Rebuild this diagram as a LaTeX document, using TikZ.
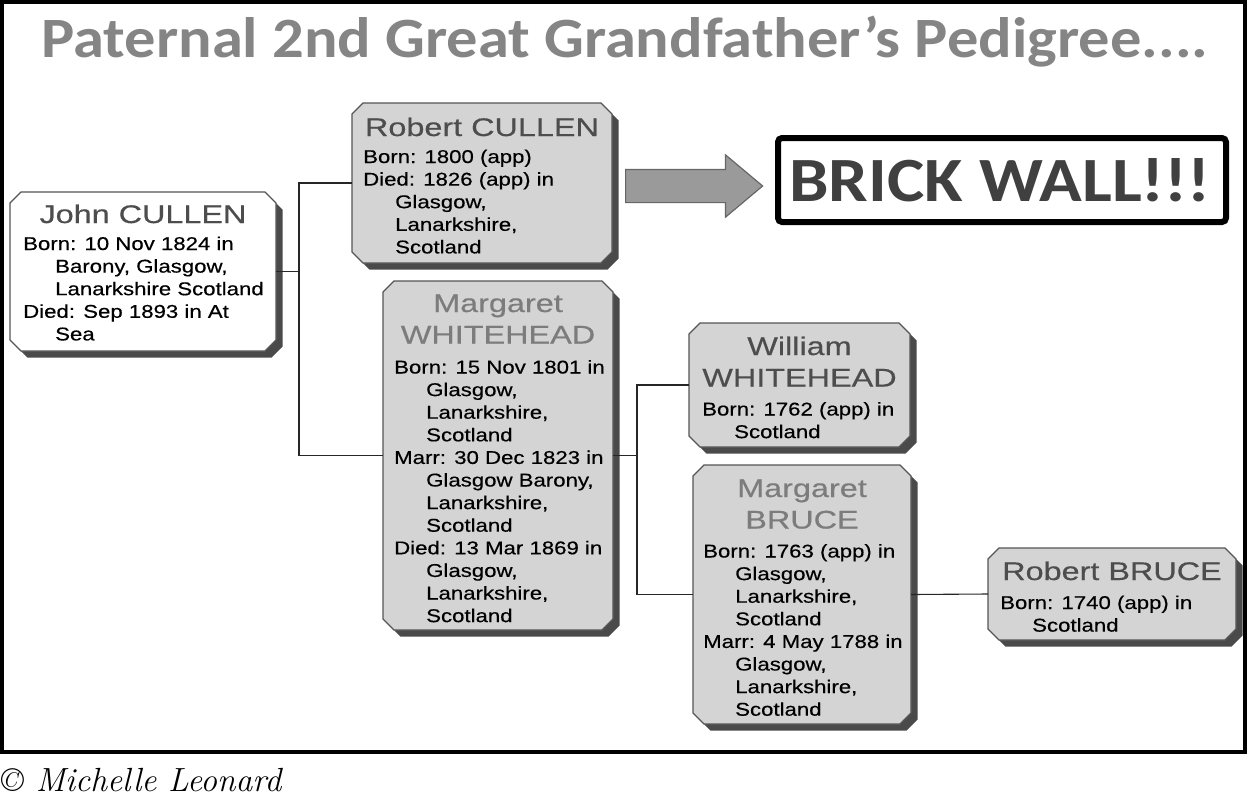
\documentclass[tikz,border=0pt]{standalone}
\usepackage{fontspec}
\usetikzlibrary{shapes.arrows,fit}
\newfontfamily\namef[FakeStretch=1.27,FakeBold=0.4]{Liberation Sans}
\newfontfamily\detf[FakeStretch=1.2,FakeBold=0.4]{Liberation Sans}
\newfontfamily\titlef[FakeStretch=1.097]{Carlito}
\newfontfamily\wallf[FakeStretch=1.118]{Carlito}
\definecolor{boxfill}{HTML}{D4D4D4}
\definecolor{boxline}{HTML}{555555}
\definecolor{shadowc}{HTML}{4A4A4A}
\definecolor{namedark}{HTML}{4D4D4D}
\definecolor{namelight}{HTML}{7C7C7C}
\definecolor{titlegray}{HTML}{858585}
\definecolor{wallgray}{HTML}{404040}
\definecolor{arrowfill}{HTML}{9A9A9A}
\definecolor{arrowline}{HTML}{666666}
\newcommand\lrows[1]{\vtop{\baselineskip=22.6pt\lineskiplimit=-30pt\halign{##\hfil\cr#1\crcr}}}
\newcommand\crows[1]{\vtop{\baselineskip=31.5pt\lineskiplimit=-30pt\halign{\hfil##\hfil\cr#1\crcr}}}
\newcommand\ind{\kern32pt}
% chamfered person box: name, x1, y1, x2, y2, fill
\newcommand\personbox[6]{%
  \fill[shadowc, shift={(6.5,6.5)}] ({#2+11},#3) -- ({#4-11},#3) -- (#4,{#3+11}) -- (#4,{#5-11}) -- ({#4-11},#5) -- ({#2+11},#5) -- (#2,{#5-11}) -- (#2,{#3+11}) -- cycle;
  \filldraw[fill=#6, draw=boxline, line width=1.1pt] ({#2+11},#3) -- ({#4-11},#3) -- (#4,{#3+11}) -- (#4,{#5-11}) -- ({#4-11},#5) -- ({#2+11},#5) -- (#2,{#5-11}) -- (#2,{#3+11}) -- cycle;
  \node[fit={(#2,#3) (#4,#5)}, inner sep=0pt, outer sep=0pt] (#1) {};%
}
\tikzset{
  pname/.style={anchor=base, inner sep=0pt, font=\namef\fontsize{25.5}{31.5}\selectfont, text=namedark},
  pdet/.style={anchor=base west, inner sep=0pt, font=\detf\fontsize{18.5}{22.6}\selectfont, text=black},
  conn/.style={draw=black!85, line width=1.1pt}
}
\begin{document}
\begin{tikzpicture}[x=1pt,y=-1pt]
\useasboundingbox (0,0) rectangle (1248,796);
\draw[line width=4pt] (2,2) rectangle (1245,752);
\node[anchor=base, inner sep=0pt, font=\titlef\bfseries\fontsize{57}{66}\selectfont, text=titlegray] (title) at (625,57) {Paternal 2nd Great Grandfather’s Pedigree....};

% boxes
\personbox{john}{10}{192}{276}{351}{white}
\personbox{rcullen}{352}{103}{612}{263}{boxfill}
\personbox{mwhite}{383}{281}{613}{630}{boxfill}
\personbox{wwhite}{689}{323}{910}{447}{boxfill}
\personbox{mbruce}{693}{465}{911}{724}{boxfill}
\personbox{rbruce}{988}{548}{1236}{640}{boxfill}

% connectors
\coordinate (fork1) at (299,271.5);
\coordinate (fork2) at (637,455.5);
\draw[conn] (john.east) -- (fork1);
\draw[conn] (rcullen.west) -| (fork1) |- (mwhite.west);
\draw[conn] (mwhite.east) -- (fork2);
\draw[conn] (wwhite.west) -| (fork2) |- (mbruce.west);
\draw[conn] (mbruce.east) -- (rbruce.west);

% texts
\node[pname] (johnn) at (143,223) {John CULLEN};
\node[pdet] (johnd) at (23,250) {\lrows{Born: 10 Nov 1824 in\cr\ind Barony, Glasgow,\cr\ind Lanarkshire Scotland\cr Died: Sep 1893 in At\cr\ind Sea}};

\node[pname] (rcullenn) at (482,136) {Robert CULLEN};
\node[pdet] (rcullend) at (363,163) {\lrows{Born: 1800 (app)\cr Died: 1826 (app) in\cr\ind Glasgow,\cr\ind Lanarkshire,\cr\ind Scotland}};

\node[pname, text=namelight] (mwhiten) at (498,312) {\crows{Margaret\cr WHITEHEAD}};
\node[pdet] (mwhited) at (394,373.5) {\lrows{Born: 15 Nov 1801 in\cr\ind Glasgow,\cr\ind Lanarkshire,\cr\ind Scotland\cr Marr: 30 Dec 1823 in\cr\ind Glasgow Barony,\cr\ind Lanarkshire,\cr\ind Scotland\cr Died: 13 Mar 1869 in\cr\ind Glasgow,\cr\ind Lanarkshire,\cr\ind Scotland}};

\node[pname] (wwhiten) at (799.5,355) {\crows{William\cr WHITEHEAD}};
\node[pdet] (wwhited) at (702,415.5) {\lrows{Born: 1762 (app) in\cr\ind Scotland}};

\node[pname, text=namelight] (mbrucen) at (802,497) {\crows{Margaret\cr BRUCE}};
\node[pdet] (mbruced) at (703,557.5) {\lrows{Born: 1763 (app) in\cr\ind Glasgow,\cr\ind Lanarkshire,\cr\ind Scotland\cr Marr: 4 May 1788 in\cr\ind Glasgow,\cr\ind Lanarkshire,\cr\ind Scotland}};

\node[pname] (rbrucen) at (1112,580) {Robert BRUCE};
\node[pdet] (rbruced) at (1000,609) {\lrows{Born: 1740 (app) in\cr\ind Scotland}};

% arrow and brick wall
\node[single arrow, draw=arrowline, fill=arrowfill, line width=1.2pt, minimum height=137, minimum width=62,
  single arrow head extend=14.5pt, single arrow tip angle=80, inner sep=16pt, anchor=west] (arrow) at (625,186) {};
\node[draw=black, line width=6pt, rounded corners=4pt, fill=white, minimum width=448, minimum height=84,
  inner sep=0pt] (wall) at (1002,180) {};
\node[anchor=base, inner sep=0pt, font=\wallf\bfseries\fontsize{63}{72}\selectfont, text=wallgray] (walltext) at (1000,201) {BRICK WALL!!!};

\node[anchor=base west, inner sep=0pt, font=\itshape\fontsize{33.5}{38}\selectfont] (copy) at (1,791) {© Michelle Leonard};
\end{tikzpicture}
\end{document}
